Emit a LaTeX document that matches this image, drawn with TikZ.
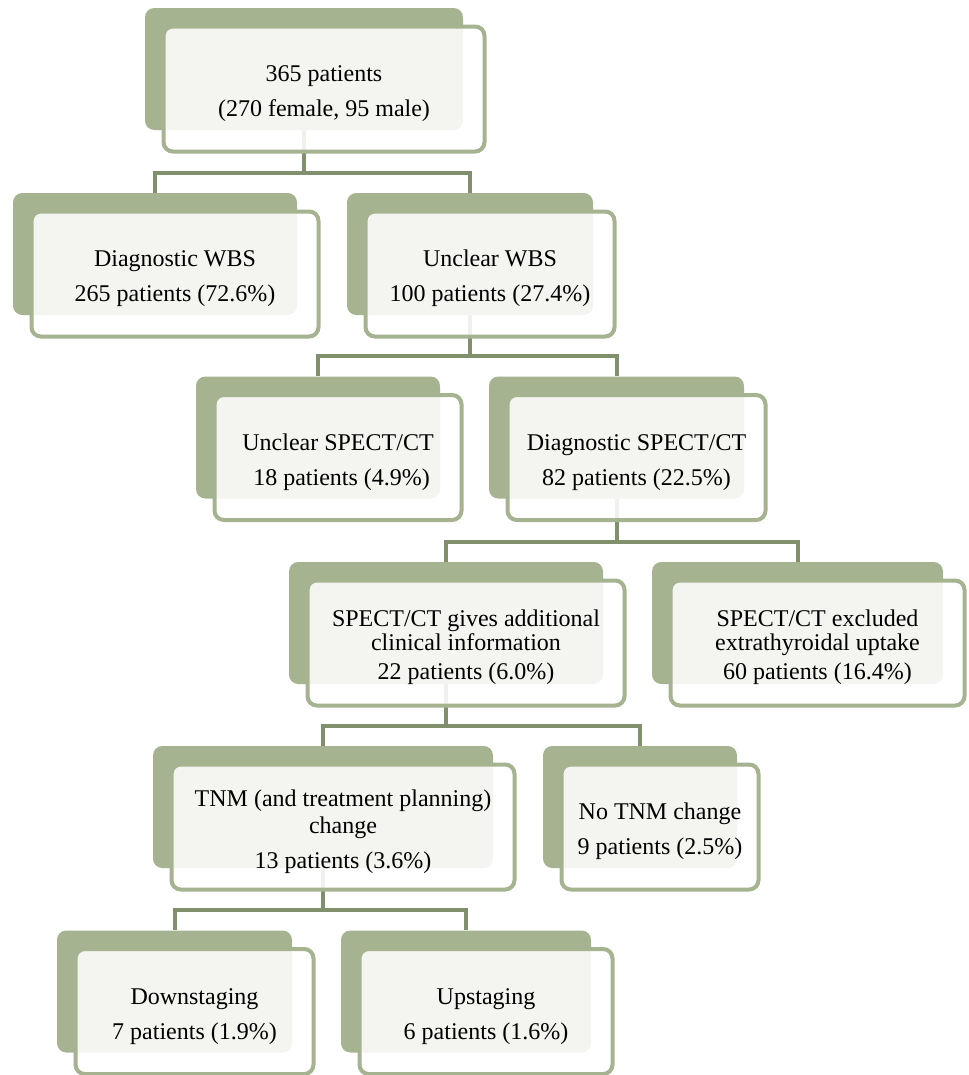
\documentclass[tikz,border=0pt]{standalone}
\usepackage{fontspec}
\setmainfont{Liberation Serif}
\usetikzlibrary{positioning,calc,backgrounds}

\definecolor{sagefill}{HTML}{A5B391}
\definecolor{sagelink}{HTML}{808F6C}

\newcommand{\firstline}{\rule{0pt}{19pt}}

\tikzset{
  backbox/.style={rectangle, rounded corners=7pt, fill=sagefill, minimum height=91.5pt, inner sep=0pt},
  frontbox/.style={rectangle, rounded corners=7pt, draw=sagefill, line width=3pt, fill=white,
    fill opacity=0.88, text opacity=1, minimum height=93.75pt, inner sep=0pt, align=center,
    font=\fontsize{18}{20.25}\selectfont, xshift=15pt, yshift=-15pt},
  tight/.style={font=\fontsize{18}{18}\selectfont},
  link/.style={draw=sagelink, line width=3pt}
}

\begin{document}
\begin{tikzpicture}[x=0.75pt, y=-0.75pt]

\useasboundingbox (0,0) rectangle (968,1075);

% Level 1
\node[backbox, minimum width=238.5pt] (root) at (304,69) {};
\node[frontbox, minimum width=240.75pt] (rootF) at (root.center) {\firstline 365 patients\\[6pt](270 female, 95 male)};

% Level 2
\node[backbox, minimum width=213pt] (dwbs) at (155,254) {};
\node[frontbox, minimum width=215.25pt] (dwbsF) at (dwbs.center) {\firstline Diagnostic WBS\\[6pt]265 patients (72.6\%)};

\node[backbox, minimum width=184.5pt] (uwbs) at (470,254) {};
\node[frontbox, minimum width=186.75pt] (uwbsF) at (uwbs.center) {\firstline Unclear WBS\\[6pt]100 patients (27.4\%)};

% Level 3
\node[backbox, minimum width=183pt] (uspect) at (318,437.5) {};
\node[frontbox, minimum width=185.25pt] (uspectF) at (uspect.center) {\firstline Unclear SPECT/CT\\[6pt]\hspace*{0.3em}18 patients (4.9\%)};

\node[backbox, minimum width=191.25pt] (dspect) at (616.5,437.5) {};
\node[frontbox, minimum width=193.5pt] (dspectF) at (dspect.center) {\firstline Diagnostic SPECT/CT\\[6pt]82 patients (22.5\%)};

% Level 4
\node[backbox, minimum width=235.5pt] (gives) at (446,623) {};
\node[frontbox, tight, minimum width=237.75pt] (givesF) at (gives.center) {\firstline SPECT/CT gives additional\\clinical information\\[3.75pt]22 patients (6.0\%)};

\node[backbox, minimum width=218.25pt] (excl) at (797.5,623) {};
\node[frontbox, tight, minimum width=220.5pt] (exclF) at (excl.center) {\firstline SPECT/CT excluded\\extrathyroidal uptake\\[3.75pt]60 patients (16.4\%)};

% Level 5
\node[backbox, minimum width=255pt] (tnm) at (323,807) {};
\node[frontbox, minimum width=257.25pt] (tnmF) at (tnm.center) {\firstline TNM (and treatment planning)\\change\\[6pt]13 patients (3.6\%)};

\node[backbox, minimum width=145.5pt] (notnm) at (640,807) {};
\node[frontbox, minimum width=147.75pt] (notnmF) at (notnm.center) {\firstline No TNM change\\[6pt]9 patients (2.5\%)};

% Level 6
\node[backbox, minimum width=176.25pt] (down) at (174.5,991.5) {};
\node[frontbox, minimum width=178.5pt] (downF) at (down.center) {\firstline Downstaging\\[6pt]7 patients (1.9\%)};

\node[backbox, minimum width=187.5pt] (up) at (466,991.5) {};
\node[frontbox, minimum width=189.75pt] (upF) at (up.center) {\firstline Upstaging\\[6pt]6 patients (1.6\%)};

% Connectors (behind the boxes)
\begin{pgfonlayer}{background}
\foreach \from/\to in {root/dwbs, root/uwbs, uwbs/uspect, uwbs/dspect, dspect/gives, dspect/excl,
                       gives/tnm, gives/notnm, tnm/down, tnm/up} {
  \draw[link] (\from.south) |- ([yshift=15pt]\to.north) -- (\to.north);
}
\end{pgfonlayer}

\end{tikzpicture}
\end{document}
